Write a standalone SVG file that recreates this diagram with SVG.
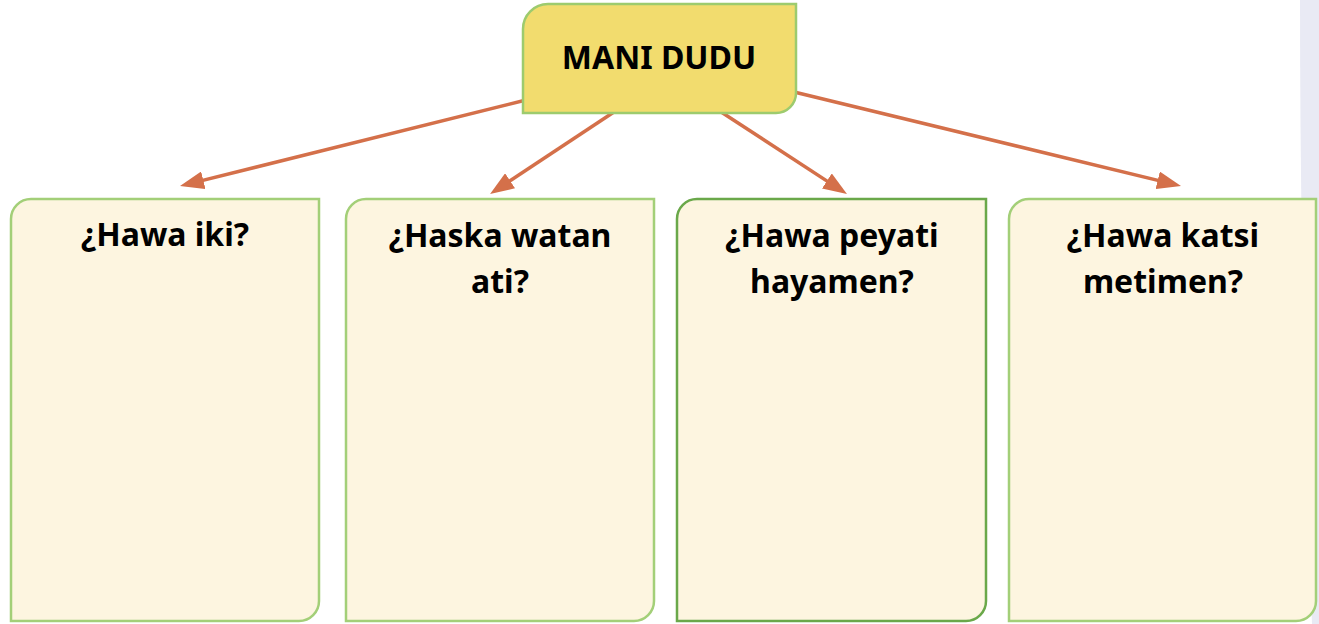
<svg xmlns="http://www.w3.org/2000/svg" width="1319" height="624" viewBox="0 0 1319 624">
<style>
.box{fill:#fdf5e0;stroke:#a3cf78;stroke-width:2.5}
.box.dark{stroke:#6aa84a}
.top{fill:#f2dc6e;stroke:#9dcb6e;stroke-width:2.5}
.lbl{font-family:"Noto Sans","Open Sans",sans-serif;font-weight:bold;font-size:32px;fill:#000;text-anchor:middle}
.conn line{stroke:#d4704a;stroke-width:3.5}
</style>
<defs>
<marker id="ah" markerUnits="userSpaceOnUse" markerWidth="24" markerHeight="18" refX="14" refY="9" orient="auto" viewBox="0 0 24 18">
<path d="M0,0 L24,9 L0,18 Z" fill="#d4704a"/>
</marker>
</defs>
<rect width="1319" height="624" fill="#fff"/>
<path d="M1300,0 Q1300,300 1312,624 L1319,624 L1319,0 Z" fill="#e9eaf4"/>
<g id="connectors" class="conn">
<line x1="530" y1="99" x2="189.7" y2="183.6" marker-end="url(#ah)"/>
<line x1="620" y1="108" x2="498.4" y2="188.5" marker-end="url(#ah)"/>
<line x1="715" y1="108" x2="838.6" y2="188.6" marker-end="url(#ah)"/>
<line x1="790" y1="91" x2="1171.3" y2="183.6" marker-end="url(#ah)"/>
</g>
<g id="node-main">
<path class="top" d="M523,29 A25,25 0 0 1 548,4 H796 V93 A20,20 0 0 1 776,113 H523 Z"/>
<text class="lbl" x="659" y="69" font-size="31">MANI DUDU</text>
</g>
<g id="node-1">
<path class="box" d="M11,219 A20,20 0 0 1 31,199 H319 V601 A20,20 0 0 1 299,621 H11 Z"/>
<text class="lbl" x="165" y="246">¿Hawa iki?</text>
</g>
<g id="node-2">
<path class="box" d="M346,219 A20,20 0 0 1 366,199 H654 V601 A20,20 0 0 1 634,621 H346 Z"/>
<text class="lbl" x="500" y="247">¿Haska watan</text>
<text class="lbl" x="500" y="293">ati?</text>
</g>
<g id="node-3">
<path class="box dark" d="M677,219 A20,20 0 0 1 697,199 H986 V601 A20,20 0 0 1 966,621 H677 Z"/>
<text class="lbl" x="832" y="247">¿Hawa peyati</text>
<text class="lbl" x="832" y="293">hayamen?</text>
</g>
<g id="node-4">
<path class="box" d="M1009,219 A20,20 0 0 1 1029,199 H1316 V601 A20,20 0 0 1 1296,621 H1009 Z"/>
<text class="lbl" x="1163" y="247">¿Hawa katsi</text>
<text class="lbl" x="1163" y="293">metimen?</text>
</g>
</svg>
